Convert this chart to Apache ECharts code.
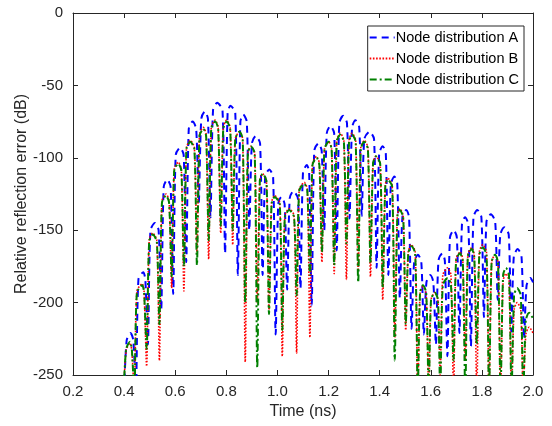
<!DOCTYPE html>
<html>
<head>
<meta charset="utf-8">
<script src="https://cdn.jsdelivr.net/npm/echarts@6/dist/echarts.min.js"></script>
<style>
  html, body { margin: 0; padding: 0; background: #fff; }
  #chart { width: 552px; height: 426px; }
</style>
</head>
<body>
<div id="chart"></div>
<script>
// values: null, shoulder, peak, shoulder per lobe
const seriesNames = ['Node distribution A', 'Node distribution B', 'Node distribution C']

const nodeA = [
  [0.400,-262],[0.410,-226],[0.425,-221],[0.436,-226],
  [0.446,-262],[0.456,-184],[0.475,-179],[0.483,-184],
  [0.493,-229],[0.503,-150],[0.521,-145],[0.535,-150],
  [0.545,-205],[0.555,-120],[0.569,-115],[0.582,-120],
  [0.592,-194],[0.602,-98],[0.619,-93],[0.633,-98],
  [0.643,-172],[0.653,-80],[0.668,-75],[0.682,-80],
  [0.692,-131],[0.702,-73],[0.716,-68],[0.728,-73],
  [0.738,-141],[0.748,-67],[0.764,-62],[0.785,-67],
  [0.795,-166],[0.805,-69],[0.816,-64],[0.835,-69],
  [0.845,-181],[0.855,-75],[0.866,-70],[0.880,-75],
  [0.890,-150],[0.900,-90],[0.915,-85],[0.932,-90],
  [0.942,-181],[0.952,-113],[0.968,-108],[0.983,-113],
  [0.993,-222],[1.003,-132],[1.015,-127],[1.028,-132],
  [1.038,-191],[1.048,-128],[1.062,-123],[1.080,-128],
  [1.090,-190],[1.100,-110],[1.115,-105],[1.124,-110],
  [1.134,-202],[1.144,-95],[1.160,-90],[1.173,-95],
  [1.183,-150],[1.193,-83],[1.207,-78],[1.222,-83],
  [1.232,-164],[1.242,-76],[1.257,-71],[1.272,-76],
  [1.282,-142],[1.292,-79],[1.305,-74],[1.320,-79],
  [1.330,-140],[1.340,-87],[1.360,-82],[1.378,-87],
  [1.388,-176],[1.398,-97],[1.412,-92],[1.424,-97],
  [1.434,-181],[1.444,-118],[1.458,-113],[1.469,-118],
  [1.479,-197],[1.489,-141],[1.504,-136],[1.515,-141],
  [1.525,-218],[1.535,-172],[1.550,-167],[1.563,-172],
  [1.573,-222],[1.583,-186],[1.598,-181],[1.610,-186],
  [1.620,-229],[1.630,-171],[1.645,-166],[1.655,-171],
  [1.665,-237],[1.675,-155],[1.690,-150],[1.702,-155],
  [1.712,-221],[1.722,-146],[1.734,-141],[1.747,-146],
  [1.757,-230],[1.767,-141],[1.782,-136],[1.798,-141],
  [1.808,-210],[1.818,-144],[1.835,-139],[1.852,-144],
  [1.862,-198],[1.872,-153],[1.888,-148],[1.905,-153],
  [1.915,-220],[1.925,-168],[1.940,-163],[1.955,-168],
  [1.965,-225],[1.975,-188],[1.990,-183],[2.000,-186]
]

const nodeB = [
  [0.398,-262],[0.408,-233],[0.423,-228],[0.430,-233],
  [0.440,-262],[0.450,-192],[0.471,-187],[0.478,-192],
  [0.488,-244],[0.498,-157],[0.512,-152],[0.528,-157],
  [0.538,-240],[0.548,-130],[0.564,-125],[0.576,-130],
  [0.586,-190],[0.596,-108],[0.612,-103],[0.624,-108],
  [0.634,-192],[0.644,-93],[0.659,-88],[0.675,-93],
  [0.685,-165],[0.695,-84],[0.710,-79],[0.721,-84],
  [0.731,-170],[0.741,-79],[0.756,-74],[0.768,-79],
  [0.778,-152],[0.788,-79],[0.801,-74],[0.815,-79],
  [0.825,-160],[0.835,-87],[0.851,-82],[0.864,-87],
  [0.874,-241],[0.884,-97],[0.896,-92],[0.911,-97],
  [0.921,-200],[0.931,-116],[0.942,-111],[0.957,-116],
  [0.967,-205],[0.977,-131],[0.989,-126],[1.009,-131],
  [1.019,-237],[1.029,-140],[1.046,-135],[1.065,-140],
  [1.075,-235],[1.085,-122],[1.105,-117],[1.117,-122],
  [1.127,-224],[1.137,-104],[1.153,-99],[1.164,-104],
  [1.174,-172],[1.184,-94],[1.201,-89],[1.212,-94],
  [1.222,-180],[1.232,-88],[1.246,-83],[1.260,-88],
  [1.270,-184],[1.280,-88],[1.292,-83],[1.306,-88],
  [1.316,-178],[1.326,-93],[1.340,-88],[1.354,-93],
  [1.364,-182],[1.374,-104],[1.385,-99],[1.402,-104],
  [1.412,-198],[1.422,-119],[1.431,-114],[1.449,-119],
  [1.459,-224],[1.469,-140],[1.478,-135],[1.492,-140],
  [1.502,-219],[1.512,-165],[1.524,-160],[1.539,-165],
  [1.549,-262],[1.558,-194],[1.569,-189],[1.582,-194],
  [1.592,-262],[1.601,-198],[1.616,-193],[1.628,-198],
  [1.637,-250],[1.647,-181],[1.666,-176],[1.679,-181],
  [1.689,-262],[1.699,-170],[1.714,-165],[1.725,-170],
  [1.735,-240],[1.745,-167],[1.760,-162],[1.770,-167],
  [1.780,-262],[1.790,-165],[1.803,-160],[1.818,-165],
  [1.828,-262],[1.838,-172],[1.851,-167],[1.863,-172],
  [1.873,-262],[1.883,-185],[1.894,-180],[1.906,-185],
  [1.916,-262],[1.926,-205],[1.938,-200],[1.952,-205],
  [1.962,-262],[1.972,-222],[1.985,-217],[2.000,-221]
]

const nodeC = [
  [0.398,-262],[0.408,-232],[0.423,-227],[0.430,-232],
  [0.440,-262],[0.450,-193],[0.471,-188],[0.478,-193],
  [0.488,-232],[0.498,-158],[0.512,-153],[0.528,-158],
  [0.538,-215],[0.548,-131],[0.564,-126],[0.576,-131],
  [0.586,-182],[0.596,-109],[0.612,-104],[0.624,-109],
  [0.634,-175],[0.644,-94],[0.659,-89],[0.675,-94],
  [0.685,-174],[0.695,-85],[0.710,-80],[0.721,-85],
  [0.731,-157],[0.741,-80],[0.756,-75],[0.768,-80],
  [0.778,-147],[0.788,-80],[0.801,-75],[0.815,-80],
  [0.825,-150],[0.835,-87],[0.851,-82],[0.864,-87],
  [0.874,-200],[0.884,-97],[0.896,-92],[0.911,-97],
  [0.921,-245],[0.931,-116],[0.942,-111],[0.957,-116],
  [0.967,-208],[0.977,-132],[0.989,-127],[1.009,-132],
  [1.019,-219],[1.029,-141],[1.046,-136],[1.065,-141],
  [1.075,-195],[1.085,-123],[1.105,-118],[1.117,-123],
  [1.127,-181],[1.137,-105],[1.153,-100],[1.164,-105],
  [1.174,-165],[1.184,-94],[1.201,-89],[1.212,-94],
  [1.222,-174],[1.232,-89],[1.246,-84],[1.260,-89],
  [1.270,-159],[1.280,-89],[1.292,-84],[1.306,-89],
  [1.316,-186],[1.326,-94],[1.340,-89],[1.354,-94],
  [1.364,-173],[1.374,-104],[1.385,-99],[1.402,-104],
  [1.412,-190],[1.422,-120],[1.431,-115],[1.449,-120],
  [1.459,-240],[1.469,-141],[1.478,-136],[1.492,-141],
  [1.502,-215],[1.512,-166],[1.524,-161],[1.539,-166],
  [1.549,-262],[1.558,-193],[1.569,-188],[1.582,-193],
  [1.592,-262],[1.601,-198],[1.616,-193],[1.628,-198],
  [1.637,-262],[1.647,-188],[1.666,-183],[1.679,-188],
  [1.689,-240],[1.699,-171],[1.714,-166],[1.725,-171],
  [1.735,-262],[1.745,-168],[1.760,-163],[1.770,-168],
  [1.780,-229],[1.790,-167],[1.803,-162],[1.818,-167],
  [1.828,-262],[1.838,-172],[1.851,-167],[1.863,-172],
  [1.873,-262],[1.883,-181],[1.894,-176],[1.906,-181],
  [1.916,-262],[1.926,-195],[1.938,-190],[1.952,-195],
  [1.962,-262],[1.972,-212],[1.985,-207],[2.000,-211]
]

const xTicks = { min: 0.2, max: 2.0, step: 0.2 }
const yTicks = { min: -250, max: 0, step: 50 }

const textColor = '#262626'
const font = 'Liberation Sans, Arial, Helvetica, sans-serif'

const boxAxis = (extra) => Object.assign({
  type: 'value',
  axisLine: { show: true, onZero: false, lineStyle: { color: textColor, width: 1 } },
  axisTick: { show: true, inside: true, length: 5, lineStyle: { color: textColor } },
  splitLine: { show: false }
}, extra)

const chart = echarts.init(document.getElementById('chart'))

const makeSeries = (name, data, color, width, dash) => ({
  name,
  type: 'line',
  data,
  symbol: 'none',
  smooth: 0.25,
  animation: false,
  lineStyle: { color, width, type: dash },
  itemStyle: { color }
})

chart.setOption({
  animation: false,
  backgroundColor: '#fff',
  grid: { left: 73, right: 19, top: 13, bottom: 51 },
  legend: {
    data: seriesNames,
    orient: 'vertical',
    right: 28,
    top: 26,
    itemWidth: 25,
    itemHeight: 14,
    itemGap: 6,
    padding: [4, 5, 4, 1],
    borderColor: textColor,
    borderWidth: 1,
    backgroundColor: '#fff',
    itemStyle: { opacity: 0 },
    textStyle: { color: '#000', fontSize: 14.5, fontFamily: font, padding: [0, 0, 0, -4] }
  },
  xAxis: [
    boxAxis({
      min: xTicks.min, max: xTicks.max, interval: xTicks.step,
      name: 'Time (ns)', nameLocation: 'middle', nameGap: 28,
      nameTextStyle: { color: textColor, fontSize: 16, fontFamily: font },
      axisLabel: { color: textColor, fontSize: 15, fontFamily: font, margin: 9,
        formatter: (v) => v.toFixed(1) }
    }),
    boxAxis({
      position: 'top', min: xTicks.min, max: xTicks.max, interval: xTicks.step,
      axisLabel: { show: false }
    })
  ],
  yAxis: [
    boxAxis({
      min: yTicks.min, max: yTicks.max, interval: yTicks.step,
      name: 'Relative reflection error (dB)', nameLocation: 'middle', nameGap: 43,
      nameMoveOverlap: false,
      nameTextStyle: { color: textColor, fontSize: 16, fontFamily: font },
      axisLabel: { color: textColor, fontSize: 15, fontFamily: font, margin: 10 }
    }),
    boxAxis({
      position: 'right', min: yTicks.min, max: yTicks.max, interval: yTicks.step,
      axisLabel: { show: false }
    })
  ],
  series: [
    makeSeries(seriesNames[0], nodeA, '#0000ff', 2, [7, 5]),
    makeSeries(seriesNames[1], nodeB, '#ff0000', 1.6, [1.6, 1.6]),
    makeSeries(seriesNames[2], nodeC, '#008000', 2, [7, 3, 2, 3])
  ]
})
</script>
</body>
</html>
